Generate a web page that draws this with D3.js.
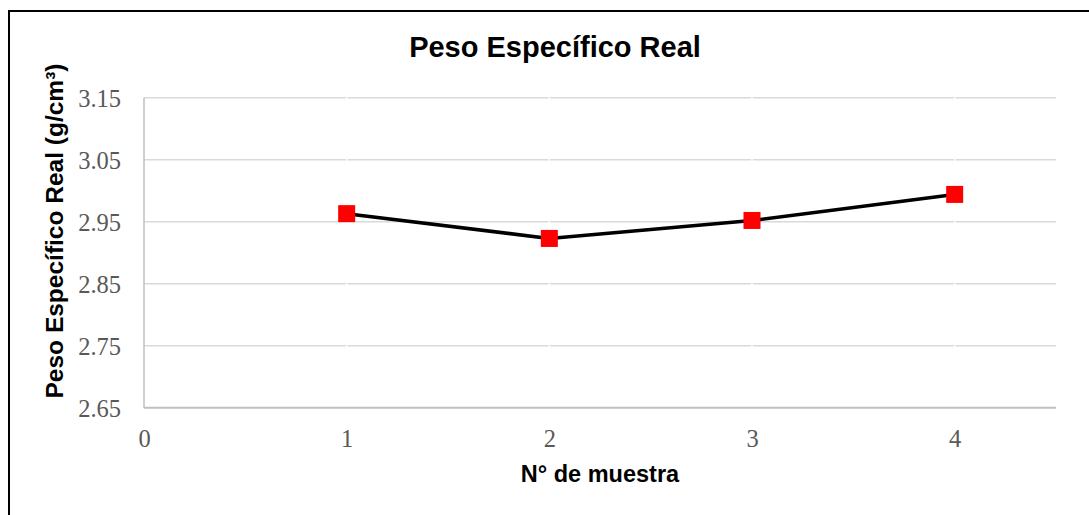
<!DOCTYPE html>
<html>
<head>
<meta charset="utf-8">
<script src="https://cdn.jsdelivr.net/npm/d3@7"></script>
<style>
  html, body { margin: 0; padding: 0; background: #ffffff; }
  svg { display: block; }
</style>
</head>
<body>
<svg id="chart" width="1089" height="515"></svg>
<script>
// Sample numbers and measured specific gravity (g/cm³)
const samples = [1, 2, 3, 4];
const pesoReal = [2.963, 2.923, 2.952, 2.994];
const xTicks = [0, 1, 2, 3, 4];
const yTicks = [2.65, 2.75, 2.85, 2.95, 3.05, 3.15];

const title = "Peso Específico Real";
const xTitle = "N° de muestra";
const yTitle = "Peso Específico Real (g/cm³)";

const svg = d3.select("#chart");
const W = 1089, H = 515;

// Outer chart frame (runs past the right and bottom edges)
svg.append("rect")
  .attr("x", 9).attr("y", 11)
  .attr("width", W + 10).attr("height", H + 10)
  .attr("fill", "#fff").attr("stroke", "#000").attr("stroke-width", 2);

const plot = { left: 144, right: 1056, top: 97.7, bottom: 407.7 };

const x = d3.scaleLinear().domain([0, 4.5]).range([plot.left, plot.right]);
const y = d3.scaleLinear().domain([2.65, 3.15]).range([plot.bottom, plot.top]);

// Horizontal gridlines
svg.append("g")
  .selectAll("line")
  .data(yTicks.slice(1))
  .join("line")
  .attr("x1", plot.left).attr("x2", plot.right)
  .attr("y1", d => y(d)).attr("y2", d => y(d))
  .attr("stroke", "#d9d9d9").attr("stroke-width", 1.5);

// Thin white breaks in the gridlines at each sample position
svg.append("g")
  .selectAll("line")
  .data(samples)
  .join("line")
  .attr("x1", d => x(d)).attr("x2", d => x(d))
  .attr("y1", plot.top - 1).attr("y2", plot.bottom - 1)
  .attr("stroke", "#ffffff").attr("stroke-width", 1.5);

// Axis lines
svg.append("line")
  .attr("x1", plot.left).attr("x2", plot.right)
  .attr("y1", plot.bottom).attr("y2", plot.bottom)
  .attr("stroke", "#bfbfbf").attr("stroke-width", 2);
svg.append("line")
  .attr("x1", plot.left).attr("x2", plot.left)
  .attr("y1", plot.top).attr("y2", plot.bottom)
  .attr("stroke", "#bfbfbf").attr("stroke-width", 1.5);

// Axes built with d3-axis, lines hidden, labels only
const tickFont = "'Liberation Serif', 'Times New Roman', serif";

const yAxis = svg.append("g")
  .attr("transform", `translate(${plot.left},0)`)
  .call(d3.axisLeft(y).tickValues(yTicks).tickFormat(d3.format(".2f")).tickSize(0).tickPadding(23));
yAxis.select(".domain").remove();
yAxis.selectAll("text")
  .attr("font-family", tickFont).attr("font-size", 24.5).attr("fill", "#595959")
  .attr("dy", "0.35em");

const xAxis = svg.append("g")
  .attr("transform", `translate(0,${plot.bottom})`)
  .call(d3.axisBottom(x).tickValues(xTicks).tickFormat(d3.format("d")).tickSize(0).tickPadding(22));
xAxis.select(".domain").remove();
xAxis.selectAll("text")
  .attr("font-family", tickFont).attr("font-size", 24.5).attr("fill", "#595959");

// Data line
const pts = samples.map((s, i) => [s, pesoReal[i]]);
svg.append("path")
  .datum(pts)
  .attr("fill", "none")
  .attr("stroke", "#000")
  .attr("stroke-width", 3.5)
  .attr("stroke-linejoin", "round")
  .attr("d", d3.line().x(d => x(d[0])).y(d => y(d[1])));

// Square markers
const ms = 17;
svg.append("g")
  .selectAll("rect")
  .data(pts)
  .join("rect")
  .attr("x", d => x(d[0]) - ms / 2)
  .attr("y", d => y(d[1]) - ms / 2)
  .attr("width", ms).attr("height", ms)
  .attr("fill", "#ff0000");

// Titles
const sansFont = "'Liberation Sans', Arial, sans-serif";
svg.append("text")
  .attr("x", 555).attr("y", 57)
  .attr("text-anchor", "middle")
  .attr("font-family", sansFont).attr("font-weight", "bold").attr("font-size", 29)
  .attr("fill", "#000")
  .text(title);

svg.append("text")
  .attr("x", 600).attr("y", 482)
  .attr("text-anchor", "middle")
  .attr("font-family", sansFont).attr("font-weight", "bold").attr("font-size", 23.5)
  .attr("fill", "#000")
  .text(xTitle);

svg.append("text")
  .attr("transform", "translate(63,231) rotate(-90)")
  .attr("text-anchor", "middle")
  .attr("font-family", sansFont).attr("font-weight", "bold").attr("font-size", 24.5)
  .attr("fill", "#000")
  .text(yTitle);
</script>
</body>
</html>
